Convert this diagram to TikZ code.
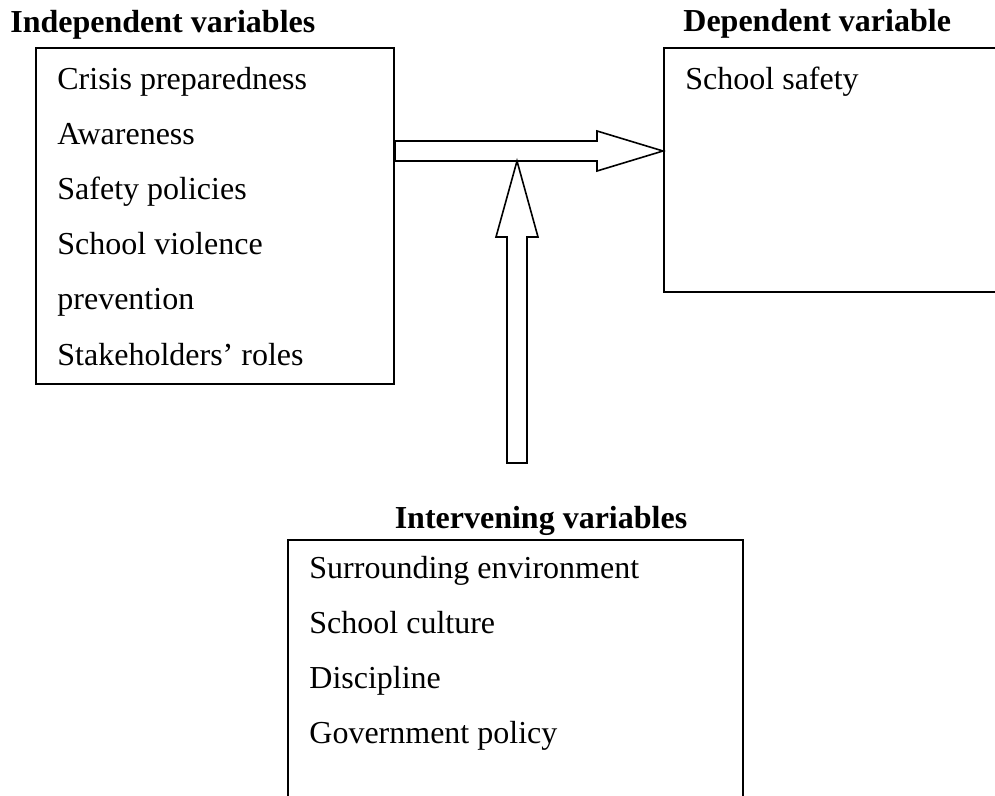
\documentclass[tikz,border=0pt]{standalone}
\usepackage{fontspec}
\setmainfont{Liberation Serif}
\usetikzlibrary{positioning}

\begin{document}
\begin{tikzpicture}[
        x=0.5pt, y=-0.5pt,
        varbox/.style={
            draw,
            line width=1pt,
            inner sep=0pt
        },
        vartitle/.style={
            font=\fontsize{16}{19}\selectfont\bfseries,
            inner sep=0pt,
            anchor=base west
        },
        varitem/.style={
            font=\fontsize{16}{19}\selectfont,
            inner sep=0pt,
            anchor=base west
        },
        blockarrow/.style={
            draw,
            fill=white,
            line width=0.8pt,
            line join=miter
        }
    ]
        \useasboundingbox (0,0) rectangle (995,796);

        % boxes
        \node[varbox, minimum width=179pt, minimum height=168pt] (indep) at (215,216) {};
        \node[varbox, minimum width=173pt, minimum height=122pt] (dep) at (837,170) {};
        \node[varbox, minimum width=227.5pt, minimum height=140pt] (interv) at (515.5,680) {};

        % titles
        \node[vartitle] (indeptitle) at (10,33) {Independent variables};
        \node[vartitle] (deptitle) at (683,32) {Dependent variable};
        \node[vartitle, anchor=base] (intervtitle) at (541,528) {Intervening variables};

        % contents
        \foreach \txt [count=\i] in {Crisis preparedness, Awareness, Safety policies, School violence, prevention, Stakeholders’ roles}
            \node[varitem] (indep-\i) at (57,35+55*\i) {\txt};
        \node[varitem] (dep-1) at (685,90) {School safety};
        \foreach \txt [count=\i] in {Surrounding environment, School culture, Discipline, Government policy}
            \node[varitem] (interv-\i) at (309,523+55*\i) {\txt};

        % arrows
        \path (indep.east) ++(0,-65) coordinate (hleft);
        \path (dep.west) ++(0,-19) coordinate (htip);
        \draw[blockarrow] ([yshift=5pt]hleft) -- ([xshift=-33pt,yshift=5pt]htip) -- ([xshift=-33pt,yshift=10pt]htip) -- (htip)
            -- ([xshift=-33pt,yshift=-10pt]htip) -- ([xshift=-33pt,yshift=-5pt]htip) -- ([yshift=-5pt]hleft) -- cycle;

        \coordinate (vbase) at (517,463);
        \coordinate (vtip) at (517,161);
        \draw[blockarrow] ([xshift=-5pt]vbase) -- ([xshift=-5pt,yshift=-38pt]vtip) -- ([xshift=-10.5pt,yshift=-38pt]vtip) -- (vtip)
            -- ([xshift=10.5pt,yshift=-38pt]vtip) -- ([xshift=5pt,yshift=-38pt]vtip) -- ([xshift=5pt]vbase) -- cycle;
    \end{tikzpicture}
\end{document}
